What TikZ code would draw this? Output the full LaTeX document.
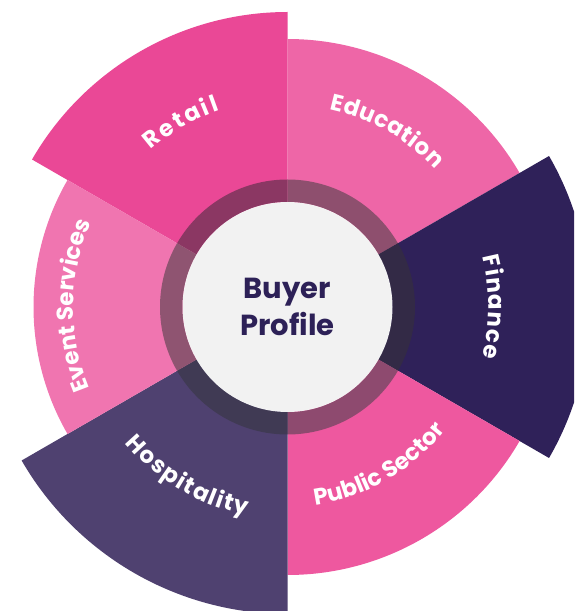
\documentclass[tikz,border=0pt]{standalone}
\usepackage{fontspec}
\setmainfont{Poppins}
\usetikzlibrary{decorations.text}
\definecolor{cRetail}{HTML}{EA4896}
\definecolor{cEducation}{HTML}{EE66A7}
\definecolor{cFinance}{HTML}{2F2159}
\definecolor{cPublic}{HTML}{EE589F}
\definecolor{cHospitality}{HTML}{4F4170}
\definecolor{cEvent}{HTML}{F075B0}
\definecolor{rRetail}{HTML}{8B3763}
\definecolor{rEducation}{HTML}{8E4F6E}
\definecolor{rFinance}{HTML}{332A46}
\definecolor{rPublic}{HTML}{8E4A6F}
\definecolor{rHospitality}{HTML}{403A54}
\definecolor{rEvent}{HTML}{8F5471}
\definecolor{cCenter}{HTML}{F2F2F2}
\definecolor{cText}{HTML}{2D2157}
\newcommand\labfont{\color{white}\fontsize{23}{23}\selectfont\bfseries}
\newcommand\sectorfill[4]{\fill[#1] (0,0) -- (#2:#4) arc[start angle=#2,end angle=#3,radius=#4] -- cycle;}
\newcommand\ringseg[3]{\fill[#1] (#2:127.5) arc[start angle=#2,end angle=#3,radius=127.5] -- (#3:105) arc[start angle=#3,end angle=#2,radius=105] -- cycle;}
\begin{document}
\begin{tikzpicture}[x=1pt,y=1pt,
  lab/.style={font=\fontsize{23}{23}\selectfont\bfseries, text=white, decorate,
    decoration={text along path, text align={fit to path}, text color=white, text={|\labfont|#1}}},
  hub/.style={circle, fill=cCenter, minimum size=210pt, inner sep=0pt, text=cText, align=center,
    font=\fontsize{29}{37}\selectfont\bfseries}]
\useasboundingbox (0,0) rectangle (574,611);
\clip (0,0) rectangle (574,611);
\begin{scope}[shift={(287.5,304)}]
  % sectors
  \sectorfill{cRetail}{90}{150}{295}
  \sectorfill{cEducation}{30}{90}{268}
  \sectorfill{cFinance}{-30}{30}{302}
  \sectorfill{cPublic}{-90}{-30}{268}
  \sectorfill{cHospitality}{-150}{-90}{307}
  \sectorfill{cEvent}{150}{210}{254}
  % ring
  \ringseg{rRetail}{90}{150}
  \ringseg{rEducation}{30}{90}
  \ringseg{rFinance}{-30}{30}
  \ringseg{rPublic}{-90}{-30}
  \ringseg{rHospitality}{-150}{-90}
  \ringseg{rEvent}{150}{210}
  % hub
  \node[hub] (center) at (0,0) {Buyer\\Profile};
  % labels
  \path[lab=Retail] (131:208) arc[start angle=131,end angle=109,radius=208];
  \path[lab=Education] (78:202) arc[start angle=78,end angle=43,radius=202];
  \path[lab=Finance] (14.5:201) arc[start angle=14.5,end angle=-14.5,radius=201];
  \path[lab=Event Services] (202.5:214) arc[start angle=202.5,end angle=157.5,radius=214];
  \path[lab=Hospitality] (-140:212) arc[start angle=-140,end angle=-101,radius=212];
  \path[lab=Public Sector] (-82:200) arc[start angle=-82,end angle=-38,radius=200];
\end{scope}
\end{tikzpicture}
\end{document}
